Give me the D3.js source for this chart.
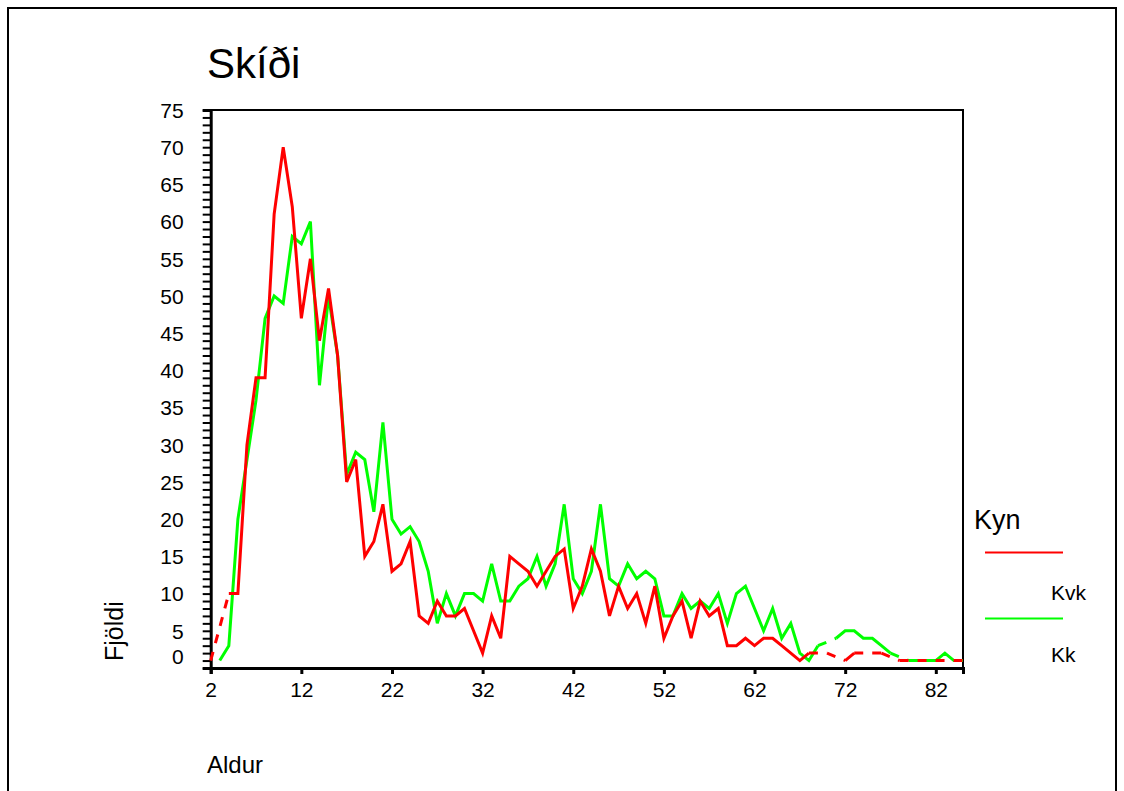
<!DOCTYPE html>
<html>
<head>
<meta charset="utf-8">
<script src="https://cdn.jsdelivr.net/npm/d3@7"></script>
<style>
  body { margin: 0; background: #fff; }
  text { font-family: "Liberation Sans", Arial, sans-serif; fill: #000; }
</style>
</head>
<body>
<div id="chart"></div>
<script>
var svgWidth = 1124;
var svgHeight = 791;

// ages on the x axis
var ages = [2, 3, 4, 5, 6, 7, 8, 9, 10, 11,
  12, 13, 14, 15, 16, 17, 18, 19, 20, 21,
  22, 23, 24, 25, 26, 27, 28, 29, 30, 31,
  32, 33, 34, 35, 36, 37, 38, 39, 40, 41,
  42, 43, 44, 45, 46, 47, 48, 49, 50, 51,
  52, 53, 54, 55, 56, 57, 58, 59, 60, 61,
  62, 63, 64, 65, 66, 67, 68, 69, 70, 71,
  72, 73, 74, 75, 76, 77, 78, 79, 80, 81,
  82, 83, 84, 85];

// Kvk (red), null = no value for that age
var kvk = [1, null, 10, 10, 30, 39, 39, 61, 70, 62,
  47, 55, 44, 51, 42, 25, 28, 15, 17, 22,
  13, 14, 17, 7, 6, 9, 7, 7, 8, 5,
  2, 7, 4, 15, 14, 13, 11, 13, 15, 16,
  8, 11, 16, 13, 7, 11, 8, 10, 6, 11,
  4, 7, 9, 4, 9, 7, 8, 3, 3, 4,
  3, 4, 4, 3, 2, 1, 2, null, 2, null,
  1, 2, null, null, 2, null, 1, null, null, null,
  null, null, null, 1];

// Kk (green)
var kk = [null, 1, 3, 20, 28, 36, 47, 50, 49, 58,
  57, 60, 38, 50, 42, 26, 29, 28, 21, 33,
  20, 18, 19, 17, 13, 6, 10, 7, 10, 10,
  9, 14, 9, 9, 11, 12, 15, 11, 14, 22,
  12, 10, 13, 22, 12, 11, 14, 12, 13, 12,
  7, 7, 10, 8, 9, 8, 10, 6, 10, 11,
  8, 5, 8, 4, 6, 2, 1, 3, null, 4,
  5, 5, 4, 4, 3, 2, null, 1, 1, 1,
  1, 2, 1, 1];

var xTicks = [2, 12, 22, 32, 42, 52, 62, 72, 82];
var yLabelTicks = [0, 5, 10, 15, 20, 25, 30, 35, 40, 45, 50, 55, 60, 65, 70, 75];

var seriesList = [
  { name: "Kk", values: kk, color: "#00ff00" },
  { name: "Kvk", values: kvk, color: "#ff0000" }
];

var plot = { left: 210.7, right: 963, top: 110, bottom: 668 };

var svg = d3.select("#chart")
  .append("svg")
  .attr("width", svgWidth)
  .attr("height", svgHeight);

// outer border
svg.append("rect")
  .attr("x", 8)
  .attr("y", 8)
  .attr("width", 1108)
  .attr("height", 820)
  .attr("fill", "none")
  .attr("stroke", "#000")
  .attr("stroke-width", 2);

var x = d3.scaleLinear().domain([2, 85]).range([plot.left, plot.right]);
var y = d3.scaleLinear().domain([0, 75]).range([plot.bottom, plot.top]);

// plot frame (top and right)
svg.append("path")
  .attr("d", `M${plot.left},${plot.top}H${plot.right}V${plot.bottom}`)
  .attr("fill", "none")
  .attr("stroke", "#000")
  .attr("stroke-width", 2);

// y axis, a tick for every unit, labels every 5
var yAxis = d3.axisLeft(y)
  .tickValues(d3.range(0, 76))
  .tickSize(8)
  .tickPadding(19)
  .tickFormat(function(d) { return yLabelTicks.indexOf(d) >= 0 ? d : ""; });

var yG = svg.append("g")
  .attr("transform", `translate(${plot.left},0)`)
  .call(yAxis);
yG.select(".domain").attr("stroke-width", 3);
yG.selectAll(".tick line").attr("stroke-width", 2);
yG.selectAll(".tick text")
  .attr("font-size", 21)
  .attr("font-family", "Liberation Sans, Arial, sans-serif")
  .attr("dy", function(d) { return d === 0 ? "-0.2em" : "0.35em"; });

// x axis
var xAxis = d3.axisBottom(x)
  .tickValues(xTicks)
  .tickSize(6)
  .tickPadding(8);

var xG = svg.append("g")
  .attr("transform", `translate(0,${plot.bottom})`)
  .call(xAxis);
xG.select(".domain").attr("stroke-width", 3);
xG.selectAll(".tick line").attr("stroke-width", 3);
xG.selectAll(".tick text")
  .attr("font-size", 21)
  .attr("font-family", "Liberation Sans, Arial, sans-serif");

// lines: solid where ages follow each other, dashed over missing ages
var line = d3.line()
  .defined(function(d) { return d.v != null; })
  .x(function(d) { return x(d.age); })
  .y(function(d) { return y(d.v); });

seriesList.forEach(function(s) {
  var pts = ages.map(function(a, i) { return { age: a, v: s.values[i] }; });

  svg.append("path")
    .datum(pts)
    .attr("d", line)
    .attr("fill", "none")
    .attr("stroke", s.color)
    .attr("stroke-width", 3)
    .attr("stroke-linejoin", "miter");

  var known = pts.filter(function(d) { return d.v != null; });
  var gaps = [];
  for (var i = 1; i < known.length; i++) {
    if (known[i].age - known[i - 1].age > 1) gaps.push([known[i - 1], known[i]]);
  }
  svg.selectAll(null)
    .data(gaps)
    .enter()
    .append("path")
    .attr("d", function(g) { return line(g); })
    .attr("fill", "none")
    .attr("stroke", s.color)
    .attr("stroke-width", 3)
    .attr("stroke-dasharray", "9,9");
});

// titles
svg.append("text")
  .attr("x", 207)
  .attr("y", 78)
  .attr("font-size", 42)
  .text("Skíði");

svg.append("text")
  .attr("transform", "translate(123,661) rotate(-90)")
  .attr("font-size", 25)
  .text("Fjöldi");

svg.append("text")
  .attr("x", 207)
  .attr("y", 773)
  .attr("font-size", 24)
  .text("Aldur");

// legend
var legend = svg.append("g");
legend.append("text")
  .attr("x", 974)
  .attr("y", 529)
  .attr("font-size", 27)
  .text("Kyn");

var legendItems = [
  { label: "Kvk", color: "#ff0000", lineY: 552.5, textY: 600 },
  { label: "Kk", color: "#00ff00", lineY: 618.5, textY: 662 }
];
legend.selectAll(".item")
  .data(legendItems)
  .enter()
  .append("line")
  .attr("x1", 985)
  .attr("x2", 1063)
  .attr("y1", function(d) { return d.lineY; })
  .attr("y2", function(d) { return d.lineY; })
  .attr("stroke", function(d) { return d.color; })
  .attr("stroke-width", 2);
legend.selectAll(".lbl")
  .data(legendItems)
  .enter()
  .append("text")
  .attr("x", 1051)
  .attr("y", function(d) { return d.textY; })
  .attr("font-size", 21)
  .text(function(d) { return d.label; });
</script>
</body>
</html>
